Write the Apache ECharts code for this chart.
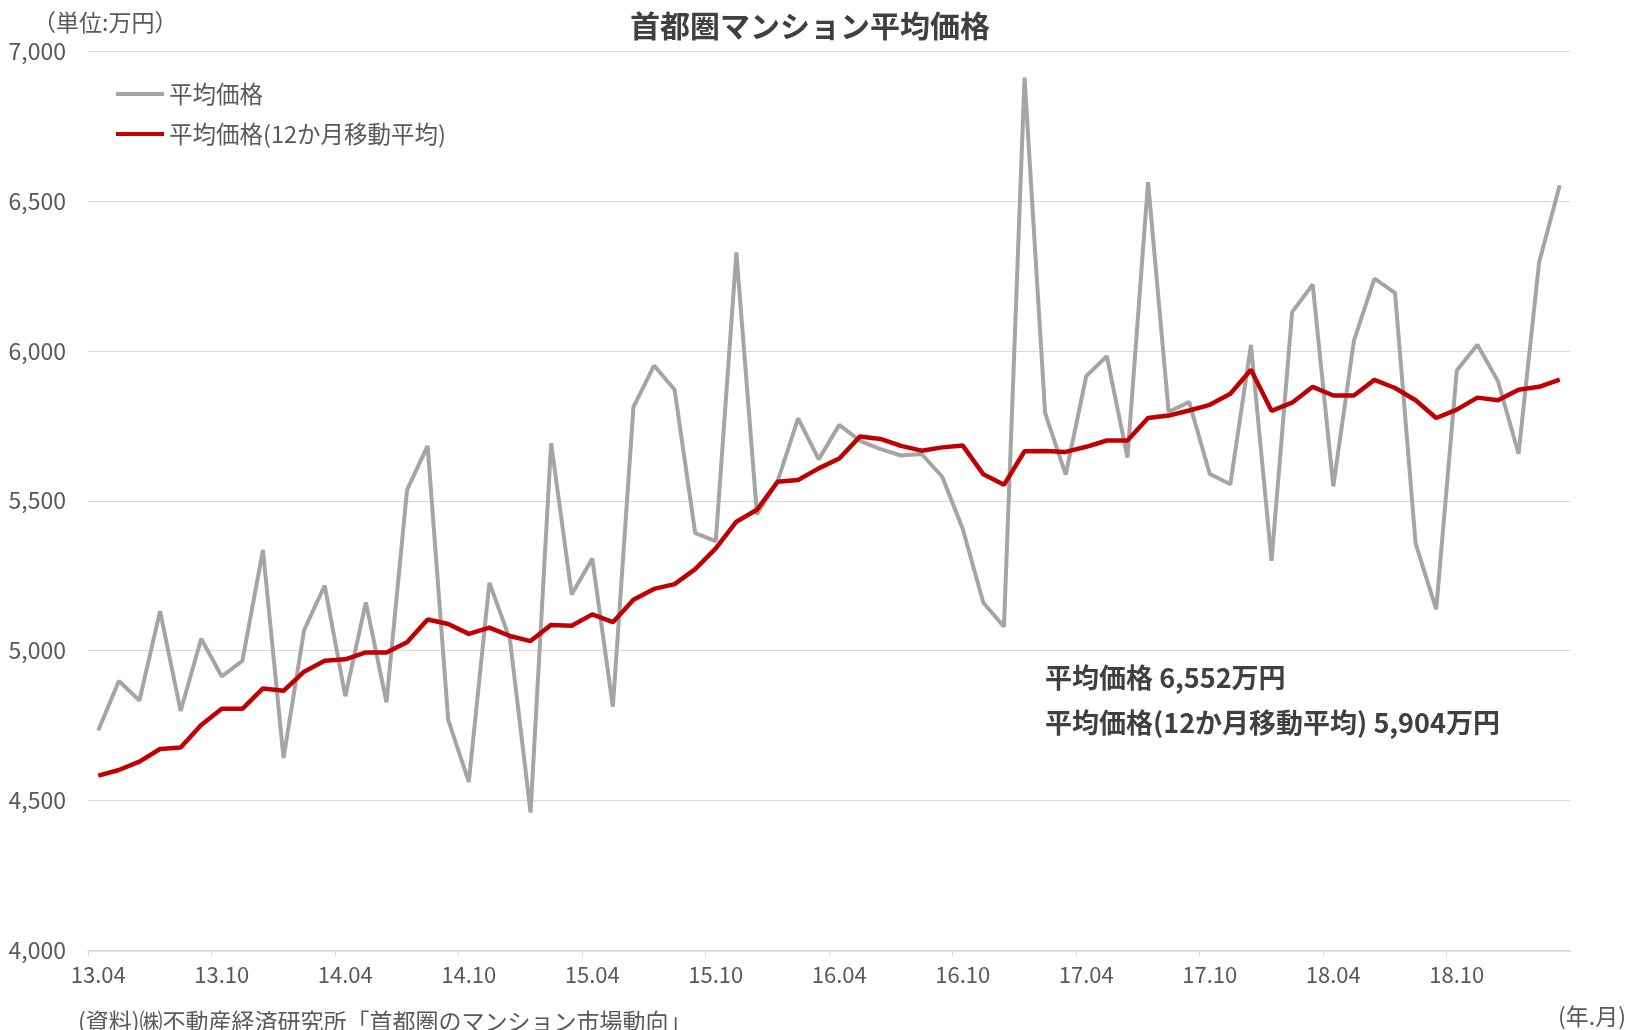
<!DOCTYPE html>
<html>
<head>
<meta charset="utf-8">
<script src="https://cdn.jsdelivr.net/npm/echarts@6/dist/echarts.min.js"></script>
<style>
  html, body { margin: 0; padding: 0; background: #fff; }
  #chart { width: 1629px; height: 1030px; }
</style>
</head>
<body>
<div id="chart"></div>
<script>
// 2013.04 - 2019.03, monthly
const tickLabels = ["13.04", "13.10", "14.04", "14.10", "15.04", "15.10",
  "16.04", "16.10", "17.04", "17.10", "18.04", "18.10"];
const avgPrice = [
  4734, 4899, 4834, 5132, 4799, 5040, 4914, 4966, 5336, 4642,
  5069, 5217, 4848, 5161, 4828, 5536, 5683, 4769, 4562, 5227,
  5037, 4460, 5692, 5187, 5307, 4813, 5813, 5951, 5870, 5392,
  5365, 6328, 5455, 5565, 5775, 5638, 5753, 5700, 5672, 5651,
  5656, 5580, 5406, 5160, 5080, 6911, 5792, 5587, 5916, 5982,
  5644, 6563, 5797, 5829, 5589, 5555, 6020, 5300, 6129, 6221,
  5548, 6033, 6241, 6193, 5357, 5138, 5934, 6020, 5899, 5657,
  6295, 6552
];
const movingAvg = [
  4583, 4602, 4630, 4672, 4677, 4752, 4806, 4806, 4874, 4866,
  4930, 4966, 4971, 4994, 4994, 5028, 5104, 5089, 5056, 5077,
  5049, 5032, 5086, 5083, 5121, 5095, 5170, 5206, 5222, 5272,
  5341, 5430, 5470, 5563, 5569, 5608, 5641, 5714, 5706, 5683,
  5667, 5678, 5684, 5588, 5553, 5665, 5666, 5663, 5680, 5701,
  5701, 5776, 5784, 5801, 5820, 5857, 5937, 5800, 5827, 5880,
  5851, 5851, 5903, 5876, 5835, 5776, 5804, 5844, 5835, 5870,
  5880, 5904
];

const jp = '"Noto Sans CJK JP", sans-serif';

const chart = echarts.init(document.getElementById("chart"));

// each month sits in the middle of its slot
const toPoints = (arr) => arr.map((v, i) => [i + 0.5, v]);

const option = {
  animation: false,
  backgroundColor: "#fff",
  grid: { left: 88, right: 59, top: 51, bottom: 79.5 },
  legend: {
    orient: "vertical",
    left: 116,
    top: 82,
    padding: 0,
    icon: "rect",
    itemWidth: 48,
    itemHeight: 4,
    itemGap: 16,
    textStyle: { fontFamily: jp, fontSize: 23.5, color: "#595959", lineHeight: 24 },
    data: ["平均価格", "平均価格(12か月移動平均)"]
  },
  xAxis: {
    type: "value",
    min: 0,
    max: 72,
    interval: 6,
    axisLine: { show: true, lineStyle: { color: "#D9D9D9", width: 1.5 } },
    axisTick: { show: true, length: 6, lineStyle: { color: "#D9D9D9" } },
    splitLine: { show: false },
    axisLabel: {
      margin: 13,
      fontFamily: jp,
      fontSize: 22,
      color: "#595959",
      showMaxLabel: false,
      // labels centred on the first month of each half year, not on the tick
      padding: [0, 0, 0, 20.6],
      formatter: (v) => tickLabels[v / 6] || ""
    }
  },
  yAxis: {
    type: "value",
    min: 4000,
    max: 7000,
    interval: 500,
    axisLine: { show: false },
    axisTick: { show: false },
    splitLine: { lineStyle: { color: "#D9D9D9", width: 1.2 } },
    axisLabel: {
      margin: 22,
      fontFamily: jp,
      fontSize: 23,
      color: "#595959",
      formatter: (v) => v.toLocaleString("en-US")
    }
  },
  series: [
    {
      name: "平均価格",
      type: "line",
      data: toPoints(avgPrice),
      symbol: "none",
      color: "#A5A5A5",
      lineStyle: { color: "#A5A5A5", width: 4 },
      z: 2
    },
    {
      name: "平均価格(12か月移動平均)",
      type: "line",
      data: toPoints(movingAvg),
      symbol: "none",
      color: "#C00000",
      lineStyle: { color: "#C00000", width: 4.5 },
      z: 3
    }
  ],
  graphic: [
    {
      type: "text", x: 810, y: 26,
      style: { text: "首都圏マンション平均価格", font: 'bold 30px "Noto Sans CJK JP"',
        fill: "#404040", align: "center", verticalAlign: "middle" }
    },
    {
      type: "text", x: 33, y: 22,
      style: { text: "（単位:万円）", font: '23px "Noto Sans CJK JP"',
        fill: "#595959", align: "left", verticalAlign: "middle" }
    },
    {
      type: "text", x: 1045, y: 678,
      style: { text: "平均価格 6,552万円", font: 'bold 27px "Noto Sans CJK JP"',
        fill: "#404040", align: "left", verticalAlign: "middle" }
    },
    {
      type: "text", x: 1045, y: 723,
      style: { text: "平均価格(12か月移動平均) 5,904万円", font: 'bold 27px "Noto Sans CJK JP"',
        fill: "#404040", align: "left", verticalAlign: "middle" }
    },
    {
      type: "text", x: 78, y: 1021,
      style: { text: "(資料)㈱不動産経済研究所「首都圏のマンション市場動向」", font: '23px "Noto Sans CJK JP"',
        fill: "#595959", align: "left", verticalAlign: "middle" }
    },
    {
      type: "text", x: 1626, y: 1016,
      style: { text: "(年.月)", font: '23px "Noto Sans CJK JP"',
        fill: "#595959", align: "right", verticalAlign: "middle" }
    }
  ]
};

chart.setOption(option);
</script>
</body>
</html>
